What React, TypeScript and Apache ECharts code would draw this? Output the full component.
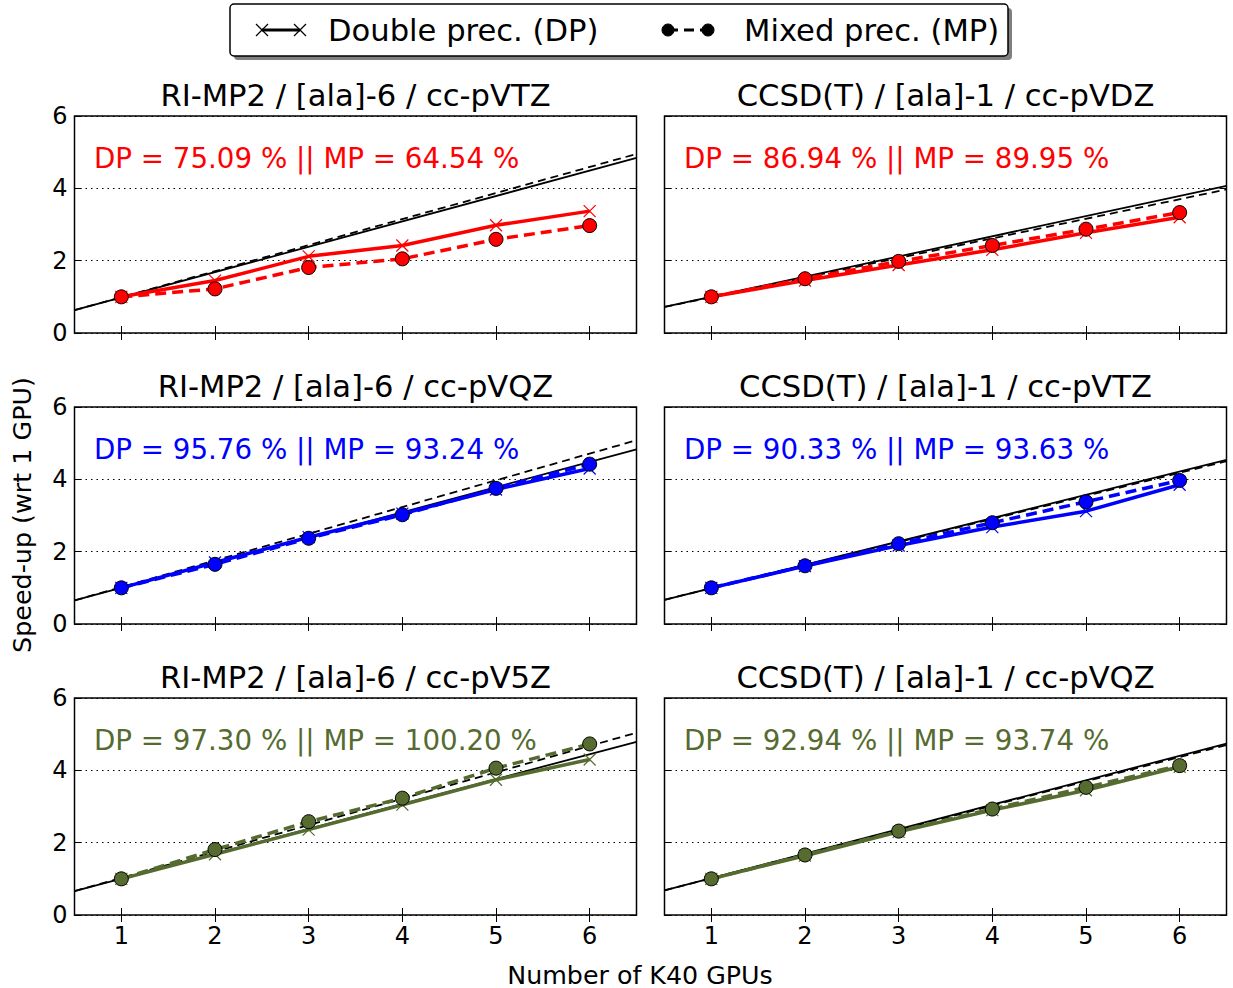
import React, { useEffect, useRef } from "react";
import * as echarts from "echarts";

const FONT = "DejaVu Sans";

const xTicks = [1, 2, 3, 4, 5, 6];
const gpus = [1, 2, 3, 4, 5, 6];

const panelTitles = [
  "RI-MP2 / [ala]-6 / cc-pVTZ",
  "CCSD(T) / [ala]-1 / cc-pVDZ",
  "RI-MP2 / [ala]-6 / cc-pVQZ",
  "CCSD(T) / [ala]-1 / cc-pVTZ",
  "RI-MP2 / [ala]-6 / cc-pV5Z",
  "CCSD(T) / [ala]-1 / cc-pVQZ",
];
const panelNotes = [
  "DP = 75.09 % || MP = 64.54 %",
  "DP = 86.94 % || MP = 89.95 %",
  "DP = 95.76 % || MP = 93.24 %",
  "DP = 90.33 % || MP = 93.63 %",
  "DP = 97.30 % || MP = 100.20 %",
  "DP = 92.94 % || MP = 93.74 %",
];
const panelColors = ["#ff0000", "#ff0000", "#0000ff", "#0000ff", "#556b2f", "#556b2f"];

// speed-up values (wrt 1 GPU)
const dpVTZmp2 = [1.0, 1.45, 2.12, 2.42, 2.98, 3.37];
const mpVTZmp2 = [1.0, 1.22, 1.81, 2.05, 2.59, 2.97];
const dpVDZcc = [1.0, 1.45, 1.88, 2.3, 2.77, 3.2];
const mpVDZcc = [1.0, 1.5, 1.98, 2.42, 2.87, 3.33];
const dpVQZmp2 = [1.0, 1.7, 2.4, 3.05, 3.72, 4.3];
const mpVQZmp2 = [1.0, 1.65, 2.37, 3.02, 3.75, 4.42];
const dpVTZcc = [1.0, 1.6, 2.17, 2.68, 3.12, 3.85];
const mpVTZcc = [1.0, 1.61, 2.22, 2.8, 3.38, 3.97];
const dpV5Zmp2 = [1.0, 1.68, 2.36, 3.05, 3.74, 4.3];
const mpV5Zmp2 = [1.0, 1.81, 2.58, 3.23, 4.06, 4.73];
const dpVQZcc = [1.0, 1.64, 2.3, 2.9, 3.45, 4.1];
const mpVQZcc = [1.0, 1.66, 2.32, 2.93, 3.53, 4.13];

// linear fit lines: values at x = 0.5 and x = 6.5
const fitX = [0.5, 6.5];
const fitDP = [
  [0.63, 4.84],
  [0.72, 4.07],
  [0.65, 4.83],
  [0.67, 4.54],
  [0.66, 4.79],
  [0.68, 4.74],
];
const fitMP = [
  [0.63, 4.95],
  [0.72, 3.97],
  [0.65, 5.08],
  [0.67, 4.5],
  [0.66, 5.04],
  [0.68, 4.7],
];

const dpSeries = [dpVTZmp2, dpVDZcc, dpVQZmp2, dpVTZcc, dpV5Zmp2, dpVQZcc];
const mpSeries = [mpVTZmp2, mpVDZcc, mpVQZmp2, mpVTZcc, mpV5Zmp2, mpVQZcc];

const CROSS = "path://M0,0L10,10M10,0L0,10";

export default function App() {
  const ref = useRef<HTMLDivElement>(null);
  useEffect(() => {
    if (!ref.current) return;
    const chart = echarts.init(ref.current, undefined, { renderer: "svg" });

    const colLeft = [74.5, 664.5];
    const rowTop = [116, 407, 698];
    const W = 562;
    const H = 217;

    const grids: any[] = [];
    const xAxes: any[] = [];
    const yAxes: any[] = [];
    const series: any[] = [];
    const graphics: any[] = [];

    for (let i = 0; i < 6; i++) {
      const r = Math.floor(i / 2);
      const c = i % 2;
      const left = colLeft[c];
      const top = rowTop[r];
      grids.push({
        left,
        top,
        width: W,
        height: H,
        show: true,
        borderColor: "#000",
        borderWidth: 1.5,
        backgroundColor: "#fff",
        containLabel: false,
      });
      const tickCommon = { show: true, inside: true, length: 7, lineStyle: { color: "#000", width: 1 } };
      xAxes.push({
        type: "value",
        gridIndex: i,
        position: "bottom",
        min: 0.5,
        max: 6.5,
        axisLine: { show: false },
        splitLine: { show: false },
        axisTick: { ...tickCommon, customValues: xTicks },
        axisLabel: {
          show: r === 2,
          customValues: xTicks,
          fontFamily: FONT,
          fontSize: 24,
          color: "#000",
          margin: 9,
        },
      });
      xAxes.push({
        type: "value",
        gridIndex: i,
        position: "top",
        min: 0.5,
        max: 6.5,
        axisLine: { show: false },
        splitLine: { show: false },
        axisTick: { ...tickCommon, customValues: xTicks },
        axisLabel: { show: false },
      });
      yAxes.push({
        type: "value",
        gridIndex: i,
        position: "left",
        min: 0,
        max: 6,
        interval: 2,
        axisLine: { show: false },
        splitLine: { show: true, lineStyle: { color: "#000", type: [1.5, 4], width: 1 } },
        axisTick: tickCommon,
        axisLabel: {
          show: c === 0,
          fontFamily: FONT,
          fontSize: 24,
          color: "#000",
          margin: 7,
        },
      });
      yAxes.push({
        type: "value",
        gridIndex: i,
        position: "right",
        min: 0,
        max: 6,
        interval: 2,
        axisLine: { show: false },
        splitLine: { show: false },
        axisTick: tickCommon,
        axisLabel: { show: false },
      });

      const xi = 2 * i;
      const yi = 2 * i;
      const col = panelColors[i];
      series.push({
        type: "line",
        xAxisIndex: xi,
        yAxisIndex: yi,
        data: fitX.map((x, k) => [x, fitDP[i][k]]),
        showSymbol: false,
        symbol: "none",
        lineStyle: { color: "#000", width: 1.8 },
        z: 2,
        silent: true,
      });
      series.push({
        type: "line",
        xAxisIndex: xi,
        yAxisIndex: yi,
        data: fitX.map((x, k) => [x, fitMP[i][k]]),
        showSymbol: false,
        symbol: "none",
        lineStyle: { color: "#000", width: 1.8, type: [8, 5] },
        z: 2,
        silent: true,
      });
      series.push({
        type: "line",
        xAxisIndex: xi,
        yAxisIndex: yi,
        data: gpus.map((x, k) => [x, dpSeries[i][k]]),
        symbol: CROSS,
        symbolSize: 12,
        itemStyle: { color: "none", borderColor: col, borderWidth: 1.2 },
        lineStyle: { color: col, width: 3.5 },
        z: 3,
      });
      series.push({
        type: "line",
        xAxisIndex: xi,
        yAxisIndex: yi,
        data: gpus.map((x, k) => [x, mpSeries[i][k]]),
        symbol: "circle",
        symbolSize: 14,
        itemStyle: { color: col, borderColor: "#000", borderWidth: 1 },
        lineStyle: { color: col, width: 3.5, type: [11, 6] },
        z: 4,
      });

      graphics.push({
        type: "text",
        x: left + W / 2,
        y: top - 21,
        style: {
          text: panelTitles[i],
          fontFamily: FONT,
          fontSize: 30.6,
          fill: "#000",
          align: "center",
          verticalAlign: "middle",
        },
      });
      graphics.push({
        type: "text",
        x: left + 19.5,
        y: top + 42,
        style: {
          text: panelNotes[i],
          fontFamily: FONT,
          fontSize: 27.7,
          fill: col,
          align: "left",
          verticalAlign: "middle",
        },
        z: 10,
      });
    }

    // legend box
    const lx = 230, ly = 4, lw = 778, lh = 52, cy = ly + lh / 2;
    graphics.push({
      type: "rect",
      shape: { x: lx + 4, y: ly + 4, width: lw, height: lh, r: 4 },
      style: { fill: "#7f7f7f" },
    });
    graphics.push({
      type: "rect",
      shape: { x: lx, y: ly, width: lw, height: lh, r: 4 },
      style: { fill: "#fff", stroke: "#000", lineWidth: 1.5 },
    });
    graphics.push({
      type: "line",
      shape: { x1: 262, y1: cy, x2: 300, y2: cy },
      style: { stroke: "#000", lineWidth: 3 },
    });
    for (const mx of [262, 300]) {
      graphics.push({ type: "line", shape: { x1: mx - 6, y1: cy - 6, x2: mx + 6, y2: cy + 6 }, style: { stroke: "#000", lineWidth: 1.2 } });
      graphics.push({ type: "line", shape: { x1: mx - 6, y1: cy + 6, x2: mx + 6, y2: cy - 6 }, style: { stroke: "#000", lineWidth: 1.2 } });
    }
    graphics.push({
      type: "text",
      x: 328,
      y: cy,
      style: { text: "Double prec. (DP)", fontFamily: FONT, fontSize: 30.6, fill: "#000", align: "left", verticalAlign: "middle" },
    });
    graphics.push({
      type: "line",
      shape: { x1: 668, y1: cy, x2: 708, y2: cy },
      style: { stroke: "#000", lineWidth: 3, lineDash: [10, 6] },
    });
    for (const mx of [668, 708]) {
      graphics.push({ type: "circle", shape: { cx: mx, cy, r: 6 }, style: { fill: "#000", stroke: "#000" } });
    }
    graphics.push({
      type: "text",
      x: 744,
      y: cy,
      style: { text: "Mixed prec. (MP)", fontFamily: FONT, fontSize: 30.6, fill: "#000", align: "left", verticalAlign: "middle" },
    });

    // axis labels
    graphics.push({
      type: "text",
      x: 22,
      y: 515,
      rotation: Math.PI / 2,
      style: { text: "Speed-up (wrt 1 GPU)", fontFamily: FONT, fontSize: 25.4, fill: "#000", align: "center", verticalAlign: "middle" },
    });
    graphics.push({
      type: "text",
      x: 640,
      y: 975,
      style: { text: "Number of K40 GPUs", fontFamily: FONT, fontSize: 25.3, fill: "#000", align: "center", verticalAlign: "middle" },
    });

    chart.setOption({
      animation: false,
      backgroundColor: "#fff",
      grid: grids,
      xAxis: xAxes,
      yAxis: yAxes,
      series,
      graphic: graphics,
    });
    return () => chart.dispose();
  }, []);
  return (
    <div
      ref={ref}
      style={{ position: "fixed", left: 0, top: 0, width: 1233, height: 988 }}
    />
  );
}
